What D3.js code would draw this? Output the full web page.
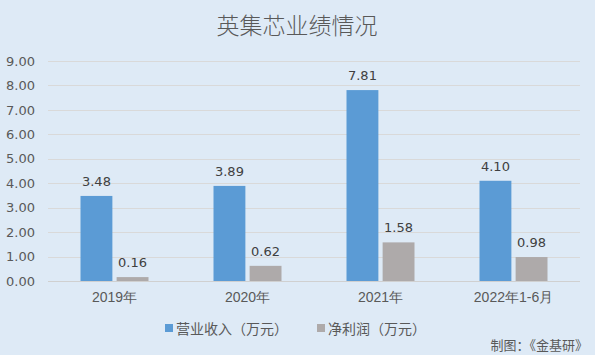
<!DOCTYPE html>
<html><head><meta charset="utf-8">
<script src="https://cdn.jsdelivr.net/npm/d3@7"></script>
<style>body{margin:0;background:#DEEAF6;}svg{display:block;font-family:"Noto Sans CJK SC","Noto Sans",sans-serif;}</style>
</head><body>
<svg id="c" width="595" height="355"></svg>
<script>
const categories = ["2019年","2020年","2021年","2022年1-6月"];
const revenue = [3.48, 3.89, 7.81, 4.10];
const profit = [0.16, 0.62, 1.58, 0.98];
const seriesNames = ["营业收入（万元）","净利润（万元）"];
const yTicks = [0,1,2,3,4,5,6,7,8,9];
const colors = ["#5B9BD5","#AEAAAA"];

const svg = d3.select("#c");
svg.append("rect").attr("width",595).attr("height",355).attr("fill","#DEEAF6");
svg.append("text").attr("x",297).attr("y",34).attr("text-anchor","middle")
  .attr("font-size",23).attr("font-weight",300).attr("fill","#595959").text("英集芯业绩情况");

const x0 = d3.scaleBand().domain(categories).range([48,580]);
const x1 = d3.scaleBand().domain([0,1]).range([0,68]).paddingInner(8/68);
const y = d3.scaleLinear().domain([0,9]).range([281,61]);

const grid = svg.append("g");
grid.selectAll("line").data(yTicks).join("line")
  .attr("x1",48).attr("x2",580).attr("y1",d=>Math.round(y(d))+0.5).attr("y2",d=>Math.round(y(d))+0.5)
  .attr("stroke",d=>d===0?"#D0D0D0":"#D9D9D9").attr("stroke-width",1);

const yAxis = d3.axisLeft(y).tickValues(yTicks).tickFormat(d3.format(".2f")).tickSize(0).tickPadding(0);
const ya = svg.append("g").attr("transform","translate(35,0)").call(yAxis);
ya.select(".domain").remove();
ya.selectAll("text").attr("font-size",13).attr("fill","#595959").attr("font-family","'DejaVu Sans',sans-serif");

const xAxis = d3.axisBottom(x0).tickSize(0).tickPadding(0);
const xa = svg.append("g").attr("transform","translate(0,292)").call(xAxis);
xa.select(".domain").remove();
xa.selectAll("text").attr("font-size",14).attr("fill","#595959").attr("dy","0.71em");

const data = [revenue, profit];
const off = (x0.bandwidth()-68)/2;
data.forEach((vals,si)=>{
  const g = svg.append("g");
  g.selectAll("rect").data(vals).join("rect")
    .attr("x",(d,i)=>x0(categories[i])+off+x1(si))
    .attr("width",x1.bandwidth())
    .attr("y",d=>y(d)).attr("height",d=>y(0)-y(d))
    .attr("fill",colors[si]);
  g.selectAll("text").data(vals).join("text")
    .attr("x",(d,i)=>x0(categories[i])+off+x1(si)+x1.bandwidth()/2)
    .attr("y",d=>y(d)-10)
    .attr("text-anchor","middle").attr("font-size",13).attr("fill","#404040")
    .attr("font-family","'DejaVu Sans',sans-serif")
    .text(d=>d.toFixed(2));
});

const legX = [165,317];
seriesNames.forEach((n,i)=>{
  svg.append("rect").attr("x",legX[i]).attr("y",324).attr("width",8).attr("height",8).attr("fill",colors[i]);
  svg.append("text").attr("x",legX[i]+11).attr("y",334).attr("font-size",14).attr("fill","#595959").text(n);
});
svg.append("text").attr("x",588).attr("y",350).attr("text-anchor","end").attr("font-size",13).attr("fill","#595959").text("制图：《金基研》");
</script>
</body></html>
